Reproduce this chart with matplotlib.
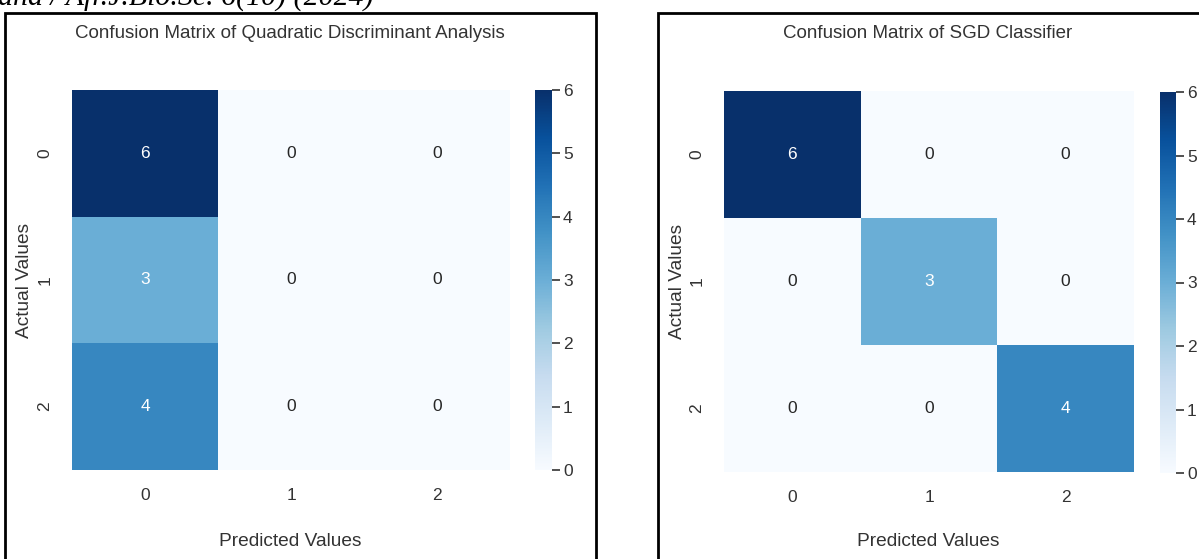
import matplotlib.pyplot as plt
import seaborn as sns
import numpy as np
from matplotlib.patches import Rectangle

plt.rcParams['font.family'] = ['Liberation Sans', 'DejaVu Sans']

# confusion matrices
labels = ["0", "1", "2"]
qda_cm = [[6, 0, 0],
          [3, 0, 0],
          [4, 0, 0]]
sgd_cm = [[6, 0, 0],
          [0, 3, 0],
          [0, 0, 4]]
titles = ["Confusion Matrix of Quadratic Discriminant Analysis",
          "Confusion Matrix of SGD Classifier"]
header = "ana / Afr.J.Bio.Sc. 6(10) (2024)"

W, H = 1199, 559
fig = plt.figure(figsize=(W / 100, H / 100), dpi=100)
fig.patch.set_facecolor("white")


def box(x0, y0, x1, y1):
    # pixel box (top-left origin) -> figure fraction rect
    return [x0 / W, (H - y1) / H, (x1 - x0) / W, (y1 - y0) / H]


panels = [
    # heatmap box, colorbar box, border x-range, text centre x, ylabel x
    dict(hm=(72, 90, 510, 470), cb=(535, 90, 552, 470), border=(5, 596), cx=290, ylx=25),
    dict(hm=(724, 91, 1134, 472), cb=(1160, 92, 1176, 473), border=(658, 1260), cx=928, ylx=678),
]

text_col = "#333333"

for p, cm, title in zip(panels, [qda_cm, sgd_cm], titles):
    ax = fig.add_axes(box(*p["hm"]))
    cax = fig.add_axes(box(*p["cb"]))
    sns.heatmap(np.array(cm), annot=True, fmt="d", cmap="Blues", ax=ax, cbar_ax=cax,
                vmin=0, vmax=6, xticklabels=labels, yticklabels=labels,
                annot_kws={"fontsize": 12.5})
    ax.tick_params(length=0, labelsize=12.5, colors=text_col, pad=13)
    ax.tick_params(axis="y", pad=14)
    for t in ax.get_yticklabels():
        t.set_rotation(90)
        t.set_va("center")
    cax.tick_params(length=6, width=1.2, labelsize=12.5, colors=text_col, pad=2)
    cax.set_yticks(range(0, 7))
    for s in cax.spines.values():
        s.set_visible(False)

    fig.text(p["cx"] / W, 1 - 33 / H, title, ha="center", va="center",
             fontsize=13.5, color=text_col)
    fig.text(p["cx"] / W, 1 - 541 / H, "Predicted Values", ha="center", va="center",
             fontsize=13.8, color=text_col)
    hm = p["hm"]
    fig.text(p["ylx"] / W, 1 - ((hm[1] + hm[3]) / 2) / H, "Actual Values", ha="center",
             va="center", rotation=90, fontsize=13.8, color=text_col)

    bx0, bx1 = p["border"]
    fig.patches.append(Rectangle((bx0 / W, -0.05), (bx1 - bx0) / W, 1.05 - 13 / H,
                                 transform=fig.transFigure, fill=False,
                                 edgecolor="black", linewidth=2))

# journal running header, clipped at the top of the page
fig.text(-2 / W, 1 - 6 / H, header, ha="left", va="baseline", fontsize=21.5,
         family="Liberation Serif", style="italic", color="black")

fig.savefig("out.png", dpi=100)
